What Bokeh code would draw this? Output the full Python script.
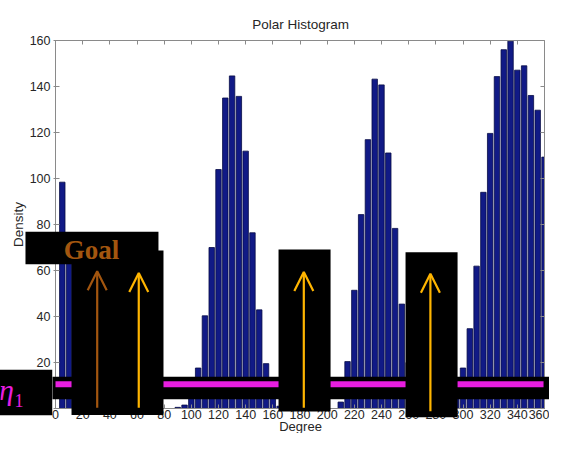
from bokeh.plotting import figure
from bokeh.models import Range1d, LinearAxis, Label, Arrow, OpenHead, FixedTicker
from bokeh.embed import file_html
from bokeh.resources import INLINE

# ---------------- data ----------------
title_text = "Polar Histogram"
x_label = "Degree"
y_label = "Density"
x_ticks = [0, 20, 40, 60, 80, 100, 120, 140, 160, 180, 200, 220, 240, 260, 280, 300, 320, 340, 360]
y_ticks = [0, 20, 40, 60, 80, 100, 120, 140, 160]

bin_centers = [5, 10, 15, 20, 25, 30, 35, 40, 45, 50, 55, 60, 65, 70, 75, 80, 85, 90, 95, 100,
               105, 110, 115, 120, 125, 130, 135, 140, 145, 150, 155, 160, 165, 170, 175, 180, 185, 190, 195, 200,
               205, 210, 215, 220, 225, 230, 235, 240, 245, 250, 255, 260, 265, 270, 275, 280, 285, 290, 295, 300,
               305, 310, 315, 320, 325, 330, 335, 340, 345, 350, 355, 360]
density = [98.4, 70, 35, 10, 2, 0, 0, 0, 0, 0, 0, 0, 0, 0, 0, 0, 0, 0.5, 1.5, 8,
           17.6, 40.3, 70, 103.9, 135, 144.6, 135.7, 111.9, 76.4, 42.9, 19.5, 5, 1, 0, 0, 0, 0, 0, 0, 0,
           0, 2.8, 20.4, 51.4, 84.3, 116.9, 143.2, 140.7, 111.1, 78.3, 45.4, 20, 6, 1, 0, 0, 0, 2, 8, 17.6,
           34.7, 61.9, 94, 119.6, 144.3, 156, 159.7, 147.1, 149, 136.1, 129.7, 109.3]
bar_width = 4
x_max = 360

eta1 = 10.5                      # threshold line
eta1_extent = [0, 359.3]
goal_label = "Goal"
eta_label = "η"
eta_sub = "1"
arrow_dirs = [30.7, 61.3, 182.8, 276.0]
arrow_base = [0.3, 0.3, 0.3, -1.2]
arrow_tip = [59.7, 58.9, 59.3, 58.6]
arrow_colors = ["#a3560f", "#ffb500", "#ffb500", "#ffb500"]
eta_color = "#e81ee0"

# black masking boxes (data coordinates)
band = dict(left=[-2.2], right=[366.6], bottom=[4.0], top=[13.85])
eta_box = dict(left=[-41.0], right=[-2.4], bottom=[-2.9], top=[16.8])
masks = dict(left=[11.8, 164.2, 257.7, -22.1],
             right=[79.5, 202.5, 296.0, 75.8],
             bottom=[-2.8, -1.3, -3.8, 62.7],
             top=[68.7, 69.1, 67.9, 76.9])

# ---------------- figure ----------------
W, H = 549, 433
px_left, px_right, px_top, px_bottom = 55, 544, 40, 408
sx = (px_right - px_left) / 360.0
sy = (px_bottom - px_top) / 160.0
x0 = -px_left / sx
y1 = 160 + px_top / sy
y0 = -(H - px_bottom) / sy

p = figure(width=W, height=H, output_backend="svg", toolbar_location=None,
           x_range=Range1d(x0, x0 + W / sx), y_range=Range1d(y0, y1),
           x_axis_location=None, y_axis_location=None, title=None,
           min_border=0)
p.xgrid.visible = False
p.ygrid.visible = False
p.outline_line_color = None
p.background_fill_color = "white"
p.border_fill_color = "white"

axis_color = "#8a8a8a"
label_color = "#262626"

def make_axis(ticks, loc, bounds, show_labels, tick_out=0, standoff=3):
    ax = LinearAxis(ticker=FixedTicker(ticks=ticks), fixed_location=loc, bounds=bounds)
    ax.axis_line_color = axis_color
    ax.major_tick_line_color = axis_color
    ax.major_tick_in = 4
    ax.major_tick_out = tick_out
    ax.minor_tick_line_color = None
    ax.major_label_text_font = "Liberation Sans"
    ax.major_label_text_font_size = "12.5px"
    ax.major_label_text_color = label_color if show_labels else None
    ax.major_label_standoff = standoff
    return ax

p.add_layout(make_axis(x_ticks, 0, (0, 360), True, 0, 1), "below")
p.add_layout(make_axis(y_ticks, 0, (0, 160), True, 2, 3), "left")
p.add_layout(make_axis(x_ticks, 160, (0, 360), False), "above")
p.add_layout(make_axis(y_ticks, 360, (0, 160), False), "right")

p.quad(left=[c - bar_width / 2 for c in bin_centers],
       right=[min(c + bar_width / 2, x_max) for c in bin_centers],
       top=density, bottom=0,
       fill_color="#111a86", line_color="#060b45", line_width=0.8)

# masks and threshold line (drawn above the axes)
p.quad(**band, fill_color="black", line_color=None, level="annotation")
p.quad(**eta_box, fill_color="black", line_color=None, level="annotation")
p.segment(x0=eta1_extent[0], y0=eta1, x1=eta1_extent[1], y1=eta1,
          line_color=eta_color, line_width=6, level="annotation")
p.quad(**masks, fill_color="black", line_color=None, level="annotation")

# title and axis labels
p.add_layout(Label(x=180.4, y=160 + (px_top - 23.5) / sy, text=title_text, text_align="center",
                   text_baseline="middle", text_font="Liberation Sans", text_font_size="13.5px",
                   text_color=label_color, level="overlay"))
p.add_layout(Label(x=180.4, y=-(425.8 - px_bottom) / sy, text=x_label, text_align="center",
                   text_baseline="middle", text_font="Liberation Sans", text_font_size="13px",
                   text_color=label_color, level="overlay"))
p.add_layout(Label(x=-27.2, y=80, text=y_label, text_align="center", text_baseline="middle",
                   angle=1.5708, text_font="Liberation Sans", text_font_size="13.5px",
                   text_color=label_color, level="overlay"))

for xd, yb, yt, c in zip(arrow_dirs, arrow_base, arrow_tip, arrow_colors):
    p.add_layout(Arrow(end=OpenHead(size=19, line_color=c, line_width=2.2),
                       x_start=xd, y_start=yb, x_end=xd, y_end=yt,
                       line_color=c, line_width=2.2, level="overlay"))

p.add_layout(Label(x=26.5, y=68.9, text=goal_label, text_align="center", text_baseline="middle",
                   text_font="Liberation Serif", text_font_style="bold", text_font_size="27px",
                   text_color=arrow_colors[0], level="overlay"))
p.add_layout(Label(x=-30.6, y=8.4, text=eta_label, text_align="right", text_baseline="middle",
                   text_font="Liberation Serif", text_font_style="italic", text_font_size="30px",
                   text_color=eta_color, level="overlay"))
p.add_layout(Label(x=-30.2, y=3.5, text=eta_sub, text_align="left", text_baseline="middle",
                   text_font="Liberation Serif", text_font_size="18px", text_color=eta_color,
                   level="overlay"))

open("out.html", "w").write(file_html(p, INLINE))
